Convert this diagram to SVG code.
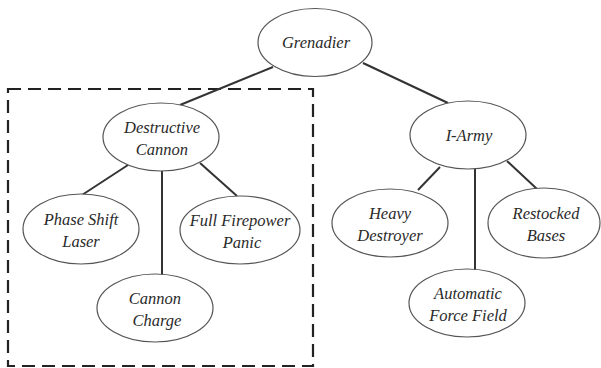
<svg xmlns="http://www.w3.org/2000/svg" width="601" height="368" viewBox="0 0 601 368">
<style>
.n ellipse{fill:#fff;stroke:#555;stroke-width:1.2}
.n text{font-family:'Liberation Serif','Times New Roman',serif;font-style:italic;font-size:16.5px;fill:#2a2a2a;text-anchor:middle}
.c line{stroke:#333;stroke-width:2}
.box{fill:none;stroke:#222;stroke-width:2.2;stroke-dasharray:13 7}
</style>
<rect width="601" height="368" fill="#fff"/>
<rect class="box" x="8" y="89" width="305" height="277"/>
<g class="c" id="connectors">
<line x1="273" y1="67" x2="180" y2="105"/>
<line x1="363" y1="63" x2="448" y2="103"/>
<line x1="128" y1="165" x2="82" y2="195"/>
<line x1="162" y1="171" x2="162" y2="275"/>
<line x1="200" y1="163" x2="237" y2="196"/>
<line x1="440" y1="167" x2="418" y2="190"/>
<line x1="475" y1="169" x2="475" y2="270"/>
<line x1="507" y1="161" x2="537" y2="189"/>
</g>
<g class="n" id="grenadier"><ellipse cx="315" cy="42.5" rx="57" ry="34"/><text x="316" y="48">Grenadier</text></g>
<g class="n" id="destructive-cannon"><ellipse cx="161" cy="137" rx="58" ry="34"/><text x="162" y="133">Destructive</text><text x="162" y="155">Cannon</text></g>
<g class="n" id="i-army"><ellipse cx="468" cy="135" rx="58" ry="34"/><text x="469" y="141">I-Army</text></g>
<g class="n" id="phase-shift-laser"><ellipse cx="81" cy="229" rx="58" ry="35"/><text x="81" y="225">Phase Shift</text><text x="81" y="247">Laser</text></g>
<g class="n" id="full-firepower-panic"><ellipse cx="240" cy="230" rx="60" ry="34"/><text x="240" y="226">Full Firepower</text><text x="242" y="248">Panic</text></g>
<g class="n" id="cannon-charge"><ellipse cx="155" cy="308" rx="58" ry="34"/><text x="155" y="304">Cannon</text><text x="157" y="326">Charge</text></g>
<g class="n" id="heavy-destroyer"><ellipse cx="390" cy="223" rx="58" ry="34"/><text x="390" y="219">Heavy</text><text x="390" y="241">Destroyer</text></g>
<g class="n" id="restocked-bases"><ellipse cx="544" cy="223" rx="56" ry="35"/><text x="546" y="219">Restocked</text><text x="546" y="241">Bases</text></g>
<g class="n" id="automatic-force-field"><ellipse cx="467" cy="303" rx="58" ry="34"/><text x="468" y="299">Automatic</text><text x="468" y="321">Force Field</text></g>
</svg>
